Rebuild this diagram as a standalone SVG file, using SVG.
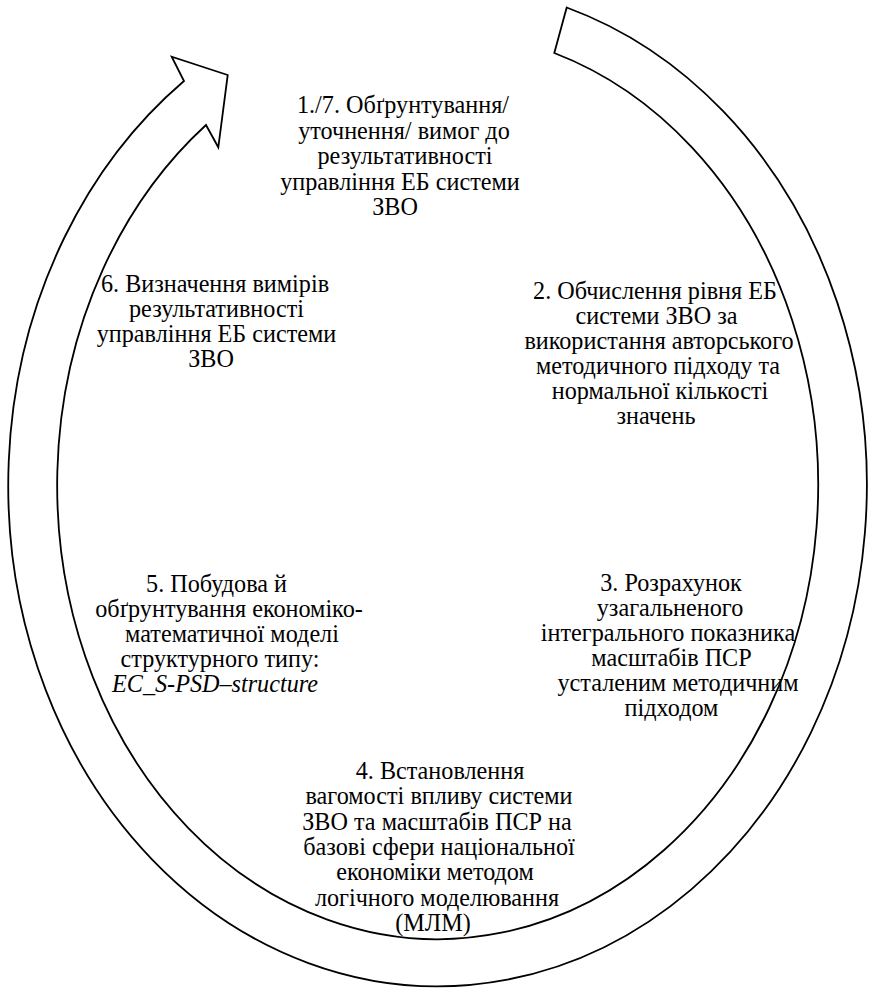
<svg xmlns="http://www.w3.org/2000/svg" width="869" height="990" viewBox="0 0 869 990">
<style>
text{font-family:"Liberation Serif","Times New Roman",serif;font-size:24.2px;fill:#000;text-anchor:middle}
.i{font-style:italic}
.arrow{fill:#fff;stroke:#000;stroke-width:1.8;stroke-linejoin:miter}
</style>
<rect width="869" height="990" fill="#fff"/>
<g id="connectors">
<path class="arrow" d="M 566.7 7.5 A 429.3 501 0 1 1 184 81 L 171.7 56.7 L 227.7 75 L 218.3 147.3 L 206 125 A 380.5 454 0 1 0 554.3 53 Z"/>
</g>
<g id="step1">
<text x="403" y="113">1./7. Обґрунтування/</text>
<text x="404" y="138.5">уточнення/ вимог до</text>
<text x="405" y="164">результативності</text>
<text x="400" y="189.5">управління ЕБ системи</text>
<text x="395" y="215">ЗВО</text>
</g>
<g id="step2">
<text x="655" y="299">2. Обчислення рівня ЕБ</text>
<text x="656.5" y="324">системи ЗВО за</text>
<text x="659" y="349">використання авторського</text>
<text x="658" y="374">методичного підходу та</text>
<text x="660" y="399">нормальної кількості</text>
<text x="656" y="424">значень</text>
</g>
<g id="step3">
<text x="671" y="591">3. Розрахунок</text>
<text x="670" y="616">узагальненого</text>
<text x="668" y="641">інтегрального показника</text>
<text x="671.5" y="666">масштабів ПСР</text>
<text x="678" y="691">усталеним методичним</text>
<text x="671.5" y="716">підходом</text>
</g>
<g id="step4">
<text x="440" y="779">4. Встановлення</text>
<text x="439" y="804.3">вагомості впливу системи</text>
<text x="437" y="829.6">ЗВО та масштабів ПСР на</text>
<text x="439" y="854.9">базові сфери національної</text>
<text x="435" y="880.2">економіки методом</text>
<text x="437" y="905.5">логічного моделювання</text>
<text x="433" y="930.8">(МЛМ)</text>
</g>
<g id="step5">
<text x="216.5" y="592">5. Побудова й</text>
<text x="229" y="617">обґрунтування економіко-</text>
<text x="232" y="642">математичної моделі</text>
<text x="220" y="667">структурного типу:</text>
<text class="i" x="215" y="692">EC_S-PSD–structure</text>
</g>
<g id="step6">
<text x="215" y="292">6. Визначення вимірів</text>
<text x="216.5" y="317">результативності</text>
<text x="216.5" y="342">управління ЕБ системи</text>
<text x="211" y="367">ЗВО</text>
</g>
</svg>
